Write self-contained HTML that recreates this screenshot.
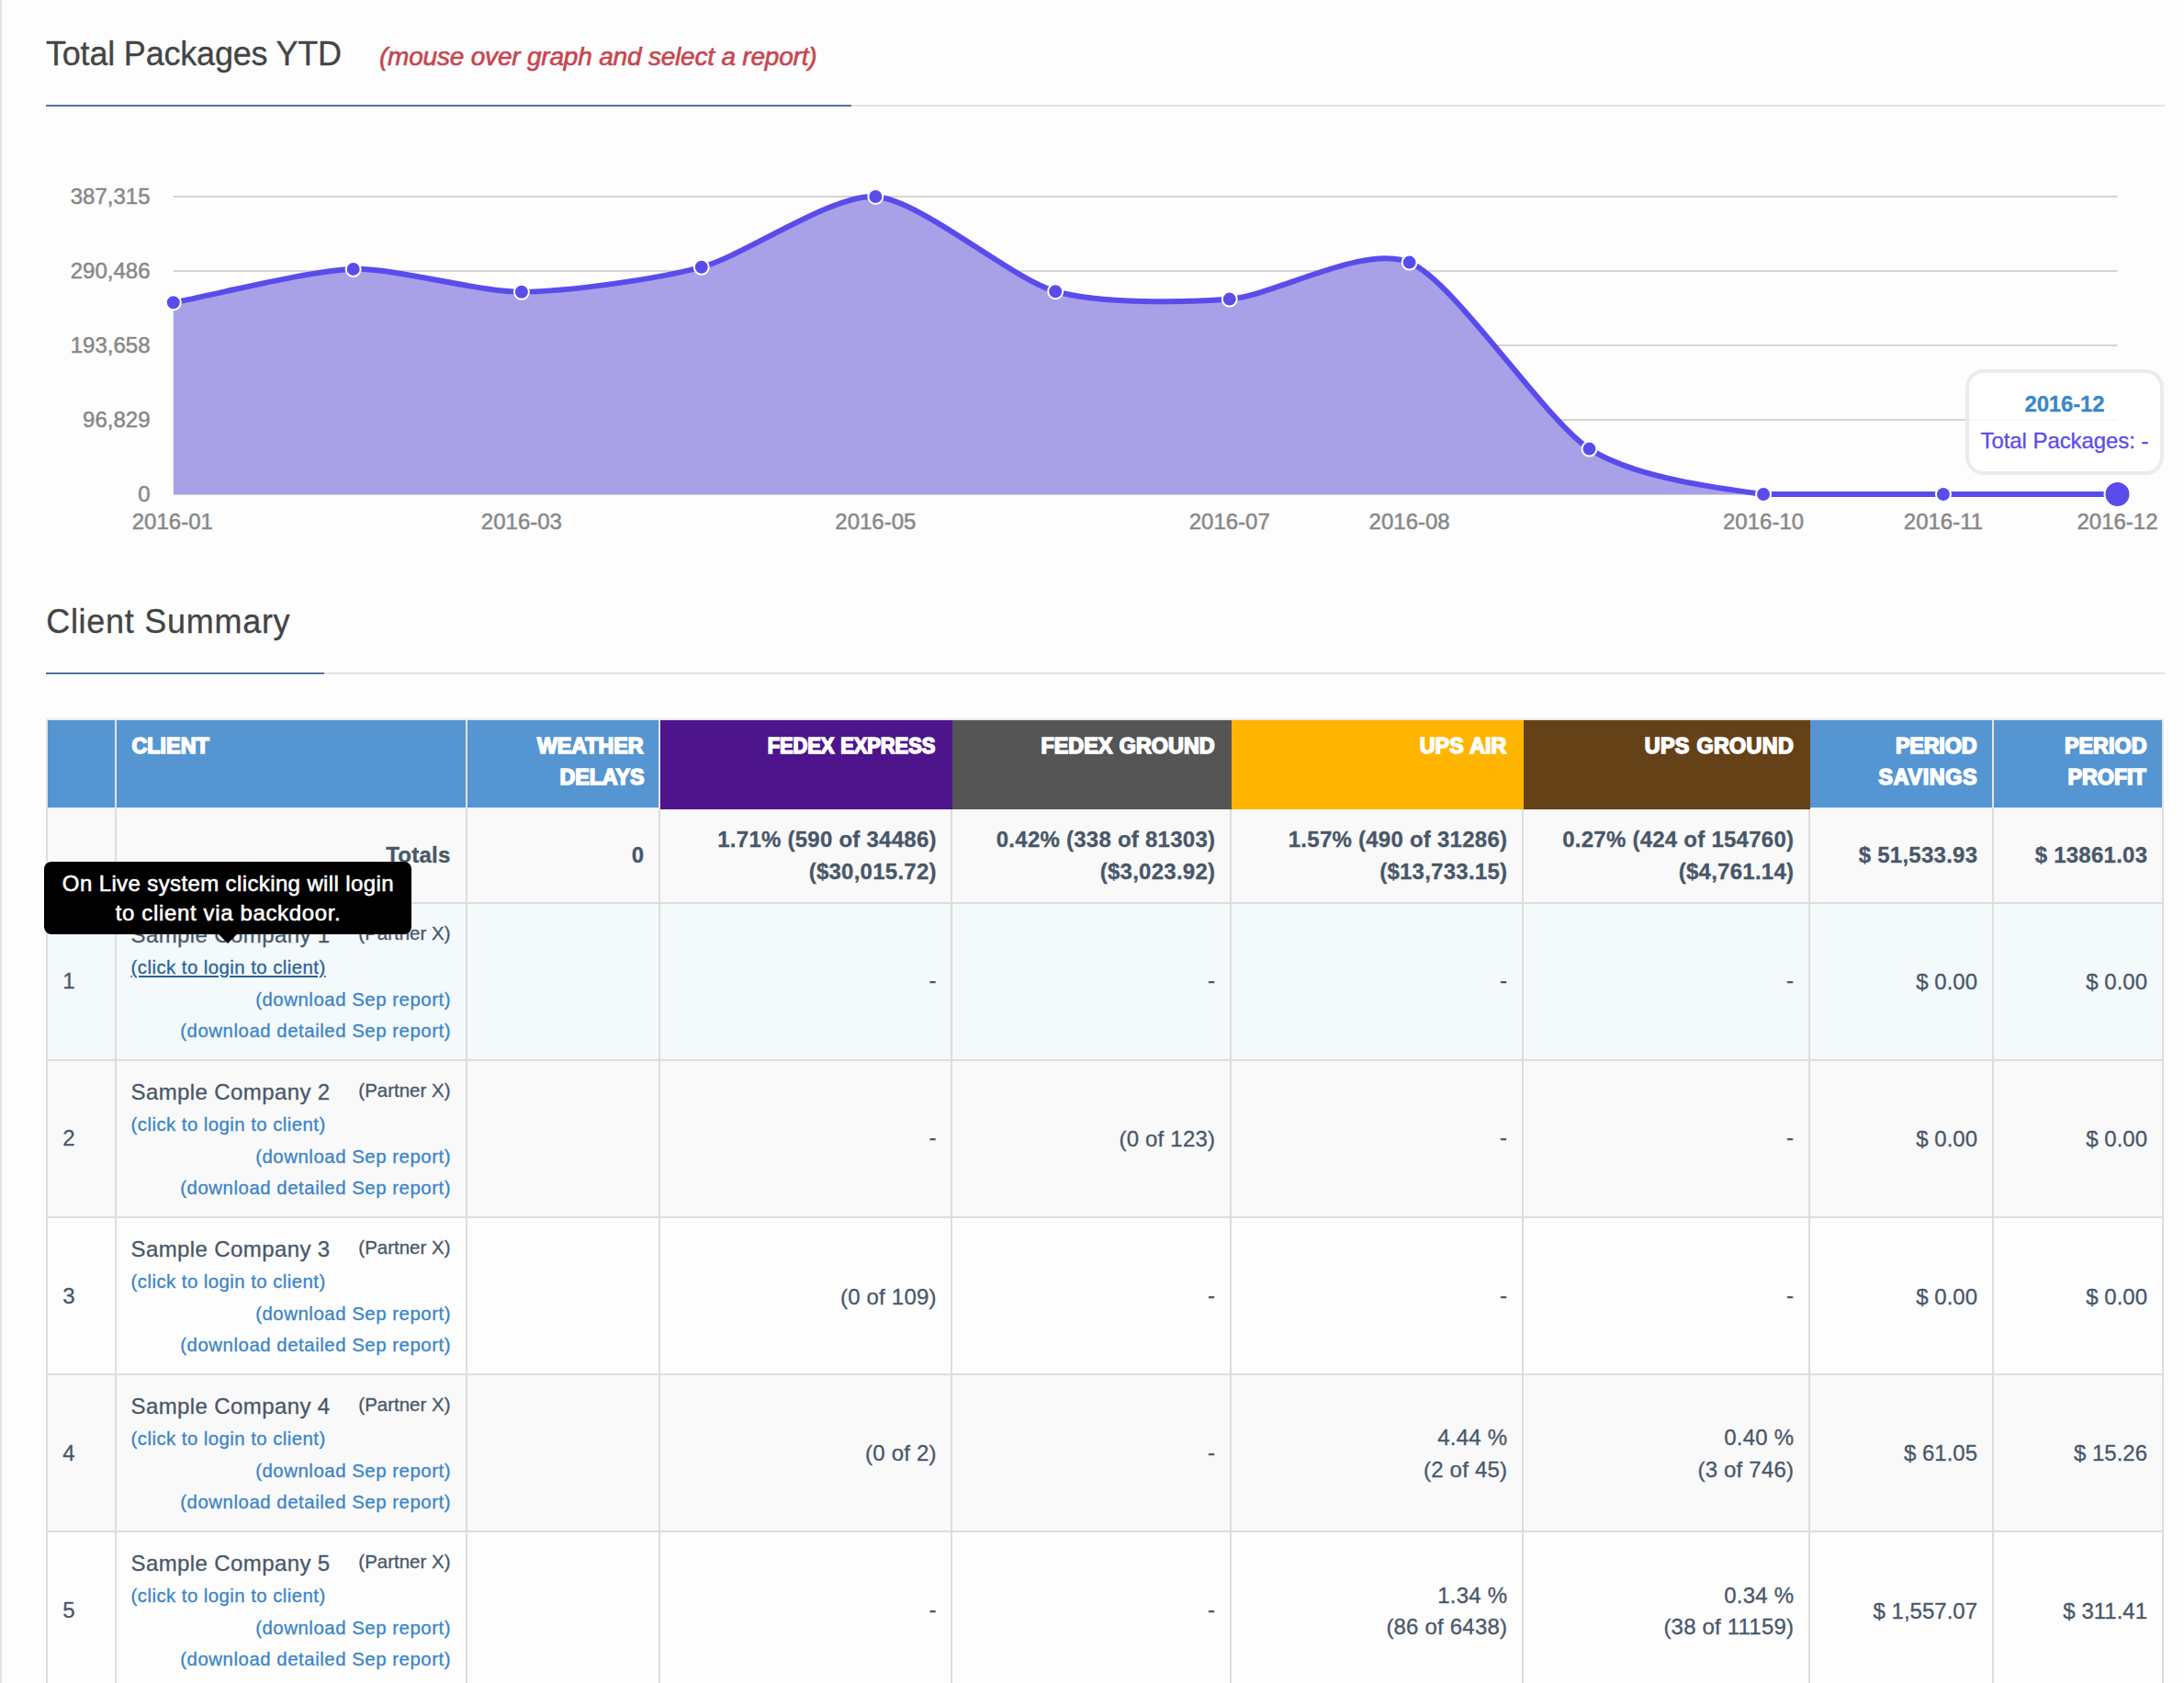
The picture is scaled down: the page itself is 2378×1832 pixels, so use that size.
<!DOCTYPE html>
<html lang="en"><head><meta charset="utf-8"><title>Dashboard</title>
<style>
html,body{margin:0;padding:0}
body{width:2378px;height:1832px;overflow:hidden;position:relative;background:#fdfdfd;font-family:"Liberation Sans",sans-serif;color:#4e5d6c}
.t{position:absolute;white-space:nowrap;line-height:1;font-family:"Liberation Sans",sans-serif;-webkit-text-stroke:0.3px currentColor}
.tt{-webkit-text-stroke:0.55px #fff}
.r{position:absolute}
.hd{-webkit-text-stroke:1.6px #fff;color:#fff;word-spacing:0.8px}
svg{position:absolute;left:0;top:0}
svg text{font-family:"Liberation Sans",sans-serif;font-size:24px;fill:#888;stroke:#888;stroke-width:0.5px}
a{color:inherit;text-decoration:none}
</style></head><body>

<div class="r" style="left:0px;top:0px;width:2px;height:1832px;background:#dce4ed;"></div>
<span class="t" style="top:41.33px;font-size:36px;color:#444;letter-spacing:-0.2px;left:50.00px;">Total Packages YTD</span>
<span class="t" style="top:48.30px;font-size:28px;color:#c8454f;letter-spacing:-0.2px;left:413.00px;font-style:italic;-webkit-text-stroke:0.6px #c8454f;">(mouse over graph and select a report)</span>
<div class="r" style="left:50px;top:114px;width:2307px;height:2px;background:#e2e2e2;"></div>
<div class="r" style="left:50px;top:114px;width:877px;height:2px;background:#52759c;"></div>
<svg width="2378" height="620" viewBox="0 0 2378 620">
<text x="163.5" y="221.60" text-anchor="end">387,315</text>
<rect x="189" y="213" width="2116.5" height="2" fill="#d4d4d4"/>
<text x="163.5" y="302.60" text-anchor="end">290,486</text>
<rect x="189" y="294" width="2116.5" height="2" fill="#d4d4d4"/>
<text x="163.5" y="383.60" text-anchor="end">193,658</text>
<rect x="189" y="375" width="2116.5" height="2" fill="#d4d4d4"/>
<text x="163.5" y="464.60" text-anchor="end">96,829</text>
<rect x="189" y="456" width="2116.5" height="2" fill="#d4d4d4"/>
<text x="163.5" y="545.60" text-anchor="end">0</text>
<rect x="189" y="537" width="2116.5" height="2" fill="#d4d4d4"/>
<path d="M188.80,329.30C237.77,320.20,335.71,294.39,384.67,292.90C430.48,291.51,522.10,318.05,567.91,317.80C616.88,317.53,714.82,303.99,763.78,290.80C811.17,278.04,905.95,210.75,953.34,214.00C1002.31,217.35,1100.24,303.02,1149.21,317.20C1196.60,330.92,1291.38,329.49,1338.77,325.60C1387.74,321.59,1485.67,265.23,1534.64,285.60C1583.61,305.98,1681.55,456.53,1730.52,488.60C1777.90,519.63,1872.68,531.93,1920.07,538.00C1969.04,538.00,2066.98,538.00,2115.94,538.00C2163.33,538.00,2258.11,538.00,2305.50,538.00L2305.50,538.0L188.80,538.0Z" fill="#a8a1e8" stroke="none"/>
<path d="M188.80,329.30C237.77,320.20,335.71,294.39,384.67,292.90C430.48,291.51,522.10,318.05,567.91,317.80C616.88,317.53,714.82,303.99,763.78,290.80C811.17,278.04,905.95,210.75,953.34,214.00C1002.31,217.35,1100.24,303.02,1149.21,317.20C1196.60,330.92,1291.38,329.49,1338.77,325.60C1387.74,321.59,1485.67,265.23,1534.64,285.60C1583.61,305.98,1681.55,456.53,1730.52,488.60C1777.90,519.63,1872.68,531.93,1920.07,538.00C1969.04,538.00,2066.98,538.00,2115.94,538.00C2163.33,538.00,2258.11,538.00,2305.50,538.00" fill="none" stroke="#5a4ceb" stroke-width="6"/>
<circle cx="188.80" cy="329.30" r="8" fill="#5a4ceb" stroke="#ffffff" stroke-width="2"/>
<circle cx="384.67" cy="292.90" r="8" fill="#5a4ceb" stroke="#ffffff" stroke-width="2"/>
<circle cx="567.91" cy="317.80" r="8" fill="#5a4ceb" stroke="#ffffff" stroke-width="2"/>
<circle cx="763.78" cy="290.80" r="8" fill="#5a4ceb" stroke="#ffffff" stroke-width="2"/>
<circle cx="953.34" cy="214.00" r="8" fill="#5a4ceb" stroke="#ffffff" stroke-width="2"/>
<circle cx="1149.21" cy="317.20" r="8" fill="#5a4ceb" stroke="#ffffff" stroke-width="2"/>
<circle cx="1338.77" cy="325.60" r="8" fill="#5a4ceb" stroke="#ffffff" stroke-width="2"/>
<circle cx="1534.64" cy="285.60" r="8" fill="#5a4ceb" stroke="#ffffff" stroke-width="2"/>
<circle cx="1730.52" cy="488.60" r="8" fill="#5a4ceb" stroke="#ffffff" stroke-width="2"/>
<circle cx="1920.07" cy="538.00" r="8" fill="#5a4ceb" stroke="#ffffff" stroke-width="2"/>
<circle cx="2115.94" cy="538.00" r="8" fill="#5a4ceb" stroke="#ffffff" stroke-width="2"/>
<circle cx="2305.50" cy="538.00" r="14" fill="#5a4ceb" stroke="#ffffff" stroke-width="2"/>
<text x="187.80" y="576" text-anchor="middle">2016-01</text>
<text x="567.91" y="576" text-anchor="middle">2016-03</text>
<text x="953.34" y="576" text-anchor="middle">2016-05</text>
<text x="1338.77" y="576" text-anchor="middle">2016-07</text>
<text x="1534.64" y="576" text-anchor="middle">2016-08</text>
<text x="1920.07" y="576" text-anchor="middle">2016-10</text>
<text x="2115.94" y="576" text-anchor="middle">2016-11</text>
<text x="2305.50" y="576" text-anchor="middle">2016-12</text>
</svg>
<div class="r" style="left:2140px;top:402px;width:208px;height:107px;border:4px solid rgba(230,230,230,0.8);border-radius:20px;background:rgba(255,255,255,0.8)"></div>
<span class="t" style="top:428.48px;font-size:24px;color:#3b87c8;font-weight:bold;letter-spacing:-0.18px;left:1747.91px;width:1000px;text-align:center;">2016-12</span>
<span class="t" style="top:468.28px;font-size:24px;color:#5a4ceb;letter-spacing:-0.07px;left:1747.96px;width:1000px;text-align:center;">Total Packages: -</span>
<span class="t" style="top:659.33px;font-size:36px;color:#444;letter-spacing:0.72px;left:50.20px;">Client Summary</span>
<div class="r" style="left:50px;top:732px;width:2307px;height:2px;background:#e2e2e2;"></div>
<div class="r" style="left:50px;top:732px;width:303px;height:2px;background:#52759c;"></div>
<div class="r" style="left:50px;top:782px;width:2306px;height:2px;background:#e6e8ee;"></div>
<div class="r" style="left:52px;top:784px;width:73px;height:95px;background:#5595d2;"></div>
<div class="r" style="left:127px;top:784px;width:380px;height:95px;background:#5595d2;"></div>
<div class="r" style="left:509px;top:784px;width:208px;height:95px;background:#5595d2;"></div>
<div class="r" style="left:1971px;top:784px;width:198px;height:95px;background:#5595d2;"></div>
<div class="r" style="left:2171px;top:784px;width:183px;height:95px;background:#5595d2;"></div>
<div class="r" style="left:719px;top:784px;width:318px;height:97px;background:#4d148c;"></div>
<div class="r" style="left:1037px;top:784px;width:304px;height:97px;background:#555555;"></div>
<div class="r" style="left:1341px;top:784px;width:318px;height:97px;background:#ffb500;"></div>
<div class="r" style="left:1659px;top:784px;width:312px;height:97px;background:#644117;"></div>
<div class="r" style="left:50px;top:784px;width:2px;height:95px;background:#e6e3df;"></div>
<div class="r" style="left:125px;top:784px;width:2px;height:95px;background:#e6e3df;"></div>
<div class="r" style="left:507px;top:784px;width:2px;height:95px;background:#e6e3df;"></div>
<div class="r" style="left:717px;top:784px;width:2px;height:95px;background:#e6e3df;"></div>
<div class="r" style="left:2169px;top:784px;width:2px;height:95px;background:#e6e3df;"></div>
<div class="r" style="left:2354px;top:784px;width:2px;height:95px;background:#e6e3df;"></div>
<div class="r" style="left:50px;top:782px;width:2px;height:2px;background:#e6e8ee;"></div>
<div class="r" style="left:52px;top:879px;width:73px;height:2px;background:#eef2f8;"></div>
<div class="r" style="left:127px;top:879px;width:380px;height:2px;background:#eef2f8;"></div>
<div class="r" style="left:509px;top:879px;width:208px;height:2px;background:#eef2f8;"></div>
<div class="r" style="left:1971px;top:879px;width:198px;height:2px;background:#eef2f8;"></div>
<div class="r" style="left:2171px;top:879px;width:183px;height:2px;background:#eef2f8;"></div>
<span class="t hd" style="top:801.08px;font-size:23.3px;color:#fff;font-weight:bold;letter-spacing:0.056px;left:143.42px;">CLIENT</span>
<span class="t hd" style="top:801.08px;font-size:23.3px;color:#fff;font-weight:bold;letter-spacing:-0.07px;right:1677.53px;">WEATHER</span>
<span class="t hd" style="top:835.18px;font-size:23.3px;color:#fff;font-weight:bold;letter-spacing:-0.062px;right:1676.62px;">DELAYS</span>
<span class="t hd" style="top:801.08px;font-size:23.3px;color:#fff;font-weight:bold;letter-spacing:-0.055px;right:1359.36px;transform:scaleX(0.94);transform-origin:right center;">FEDEX EXPRESS</span>
<span class="t hd" style="top:801.08px;font-size:23.3px;color:#fff;font-weight:bold;letter-spacing:0.064px;right:1055.32px;">FEDEX GROUND</span>
<span class="t hd" style="top:801.08px;font-size:23.3px;color:#fff;font-weight:bold;letter-spacing:0.03px;right:737.59px;">UPS AIR</span>
<span class="t hd" style="top:801.08px;font-size:23.3px;color:#fff;font-weight:bold;letter-spacing:0.38px;right:424.80px;">UPS GROUND</span>
<span class="t hd" style="top:801.08px;font-size:23.3px;color:#fff;font-weight:bold;letter-spacing:-0.14px;right:225.64px;">PERIOD</span>
<span class="t hd" style="top:835.18px;font-size:23.3px;color:#fff;font-weight:bold;letter-spacing:0.63px;right:224.87px;">SAVINGS</span>
<span class="t hd" style="top:801.08px;font-size:23.3px;color:#fff;font-weight:bold;letter-spacing:0.076px;right:40.34px;">PERIOD</span>
<span class="t hd" style="top:835.18px;font-size:23.3px;color:#fff;font-weight:bold;letter-spacing:-0.062px;right:41.38px;">PROFIT</span>
<div class="r" style="left:52px;top:881px;width:2302px;height:101px;background:#f9f9f9;"></div>
<div class="r" style="left:50px;top:982px;width:2306px;height:2px;background:#dddddd;"></div>
<div class="r" style="left:52px;top:984px;width:2302px;height:169px;background:#f4f9fc;"></div>
<div class="r" style="left:50px;top:1153px;width:2306px;height:2px;background:#dddddd;"></div>
<div class="r" style="left:52px;top:1155px;width:2302px;height:169px;background:#f9f9f9;"></div>
<div class="r" style="left:50px;top:1324px;width:2306px;height:2px;background:#dddddd;"></div>
<div class="r" style="left:52px;top:1326px;width:2302px;height:169px;background:#fdfdfd;"></div>
<div class="r" style="left:50px;top:1495px;width:2306px;height:2px;background:#dddddd;"></div>
<div class="r" style="left:52px;top:1497px;width:2302px;height:169px;background:#f9f9f9;"></div>
<div class="r" style="left:50px;top:1666px;width:2306px;height:2px;background:#dddddd;"></div>
<div class="r" style="left:52px;top:1668px;width:2302px;height:169px;background:#fdfdfd;"></div>
<div class="r" style="left:50px;top:1837px;width:2306px;height:2px;background:#dddddd;"></div>
<div class="r" style="left:50px;top:879px;width:2px;height:953px;background:#dddddd;"></div>
<div class="r" style="left:125px;top:879px;width:2px;height:953px;background:#dddddd;"></div>
<div class="r" style="left:507px;top:879px;width:2px;height:953px;background:#dddddd;"></div>
<div class="r" style="left:717px;top:879px;width:2px;height:953px;background:#dddddd;"></div>
<div class="r" style="left:1035px;top:881px;width:2px;height:953px;background:#dddddd;"></div>
<div class="r" style="left:1339px;top:881px;width:2px;height:953px;background:#dddddd;"></div>
<div class="r" style="left:1657px;top:881px;width:2px;height:953px;background:#dddddd;"></div>
<div class="r" style="left:1969px;top:881px;width:2px;height:953px;background:#dddddd;"></div>
<div class="r" style="left:2169px;top:879px;width:2px;height:953px;background:#dddddd;"></div>
<div class="r" style="left:2354px;top:879px;width:2px;height:953px;background:#dddddd;"></div>
<span class="t" style="top:919.48px;font-size:24px;color:#485769;font-weight:bold;letter-spacing:0.25px;right:1887.45px;">Totals</span>
<span class="t" style="top:919.48px;font-size:24px;color:#485769;font-weight:bold;letter-spacing:0.25px;right:1676.75px;">0</span>
<span class="t" style="top:902.38px;font-size:24px;color:#485769;font-weight:bold;letter-spacing:0.25px;right:1358.25px;">1.71% (590 of 34486)</span>
<span class="t" style="top:936.58px;font-size:24px;color:#485769;font-weight:bold;letter-spacing:0.25px;right:1358.25px;">($30,015.72)</span>
<span class="t" style="top:902.38px;font-size:24px;color:#485769;font-weight:bold;letter-spacing:0.25px;right:1054.75px;">0.42% (338 of 81303)</span>
<span class="t" style="top:936.58px;font-size:24px;color:#485769;font-weight:bold;letter-spacing:0.25px;right:1054.75px;">($3,023.92)</span>
<span class="t" style="top:902.38px;font-size:24px;color:#485769;font-weight:bold;letter-spacing:0.25px;right:736.75px;">1.57% (490 of 31286)</span>
<span class="t" style="top:936.58px;font-size:24px;color:#485769;font-weight:bold;letter-spacing:0.25px;right:736.75px;">($13,733.15)</span>
<span class="t" style="top:902.38px;font-size:24px;color:#485769;font-weight:bold;letter-spacing:0.25px;right:424.75px;">0.27% (424 of 154760)</span>
<span class="t" style="top:936.58px;font-size:24px;color:#485769;font-weight:bold;letter-spacing:0.25px;right:424.75px;">($4,761.14)</span>
<span class="t" style="top:919.48px;font-size:24px;color:#485769;font-weight:bold;letter-spacing:0.25px;right:224.75px;">$ 51,533.93</span>
<span class="t" style="top:919.48px;font-size:24px;color:#485769;font-weight:bold;letter-spacing:0.25px;right:39.75px;">$ 13861.03</span>
<span class="t" style="top:1056.48px;font-size:24px;color:#485769;left:68.20px;">1</span>
<span class="t" style="top:1006.28px;font-size:24px;color:#485769;letter-spacing:0.39px;left:142.60px;">Sample Company 1</span>
<span class="t" style="top:1005.93px;font-size:20.4px;color:#485769;letter-spacing:0.05px;right:1887.45px;">(Partner X)</span>
<span class="t" style="top:1043.23px;font-size:20.4px;color:#2a6496;letter-spacing:0.44px;left:142.60px;text-decoration:underline;">(click to login to client)</span>
<span class="t" style="top:1077.93px;font-size:20.4px;color:#3a85c8;letter-spacing:0.53px;right:1886.97px;">(download Sep report)</span>
<span class="t" style="top:1112.23px;font-size:20.4px;color:#3a85c8;letter-spacing:0.53px;right:1886.97px;">(download detailed Sep report)</span>
<span class="t" style="top:1055.38px;font-size:24px;color:#485769;letter-spacing:0.2px;right:1358.30px;">-</span>
<span class="t" style="top:1055.38px;font-size:24px;color:#485769;letter-spacing:0.2px;right:1054.80px;">-</span>
<span class="t" style="top:1055.38px;font-size:24px;color:#485769;letter-spacing:0.2px;right:736.80px;">-</span>
<span class="t" style="top:1055.38px;font-size:24px;color:#485769;letter-spacing:0.2px;right:424.80px;">-</span>
<span class="t" style="top:1056.68px;font-size:24px;color:#485769;right:225.00px;">$ 0.00</span>
<span class="t" style="top:1056.68px;font-size:24px;color:#485769;right:40.00px;">$ 0.00</span>
<span class="t" style="top:1227.48px;font-size:24px;color:#485769;left:68.20px;">2</span>
<span class="t" style="top:1177.28px;font-size:24px;color:#485769;letter-spacing:0.39px;left:142.60px;">Sample Company 2</span>
<span class="t" style="top:1176.93px;font-size:20.4px;color:#485769;letter-spacing:0.05px;right:1887.45px;">(Partner X)</span>
<span class="t" style="top:1214.23px;font-size:20.4px;color:#3a85c8;letter-spacing:0.44px;left:142.60px;">(click to login to client)</span>
<span class="t" style="top:1248.93px;font-size:20.4px;color:#3a85c8;letter-spacing:0.53px;right:1886.97px;">(download Sep report)</span>
<span class="t" style="top:1283.23px;font-size:20.4px;color:#3a85c8;letter-spacing:0.53px;right:1886.97px;">(download detailed Sep report)</span>
<span class="t" style="top:1226.38px;font-size:24px;color:#485769;letter-spacing:0.2px;right:1358.30px;">-</span>
<span class="t" style="top:1227.68px;font-size:24px;color:#485769;letter-spacing:0.2px;right:1054.80px;">(0 of 123)</span>
<span class="t" style="top:1226.38px;font-size:24px;color:#485769;letter-spacing:0.2px;right:736.80px;">-</span>
<span class="t" style="top:1226.38px;font-size:24px;color:#485769;letter-spacing:0.2px;right:424.80px;">-</span>
<span class="t" style="top:1227.68px;font-size:24px;color:#485769;right:225.00px;">$ 0.00</span>
<span class="t" style="top:1227.68px;font-size:24px;color:#485769;right:40.00px;">$ 0.00</span>
<span class="t" style="top:1399.48px;font-size:24px;color:#485769;left:68.20px;">3</span>
<span class="t" style="top:1348.28px;font-size:24px;color:#485769;letter-spacing:0.39px;left:142.60px;">Sample Company 3</span>
<span class="t" style="top:1347.93px;font-size:20.4px;color:#485769;letter-spacing:0.05px;right:1887.45px;">(Partner X)</span>
<span class="t" style="top:1385.23px;font-size:20.4px;color:#3a85c8;letter-spacing:0.44px;left:142.60px;">(click to login to client)</span>
<span class="t" style="top:1419.93px;font-size:20.4px;color:#3a85c8;letter-spacing:0.53px;right:1886.97px;">(download Sep report)</span>
<span class="t" style="top:1454.23px;font-size:20.4px;color:#3a85c8;letter-spacing:0.53px;right:1886.97px;">(download detailed Sep report)</span>
<span class="t" style="top:1399.68px;font-size:24px;color:#485769;letter-spacing:0.2px;right:1358.30px;">(0 of 109)</span>
<span class="t" style="top:1398.38px;font-size:24px;color:#485769;letter-spacing:0.2px;right:1054.80px;">-</span>
<span class="t" style="top:1398.38px;font-size:24px;color:#485769;letter-spacing:0.2px;right:736.80px;">-</span>
<span class="t" style="top:1398.38px;font-size:24px;color:#485769;letter-spacing:0.2px;right:424.80px;">-</span>
<span class="t" style="top:1399.68px;font-size:24px;color:#485769;right:225.00px;">$ 0.00</span>
<span class="t" style="top:1399.68px;font-size:24px;color:#485769;right:40.00px;">$ 0.00</span>
<span class="t" style="top:1569.98px;font-size:24px;color:#485769;left:68.20px;">4</span>
<span class="t" style="top:1519.28px;font-size:24px;color:#485769;letter-spacing:0.39px;left:142.60px;">Sample Company 4</span>
<span class="t" style="top:1518.93px;font-size:20.4px;color:#485769;letter-spacing:0.05px;right:1887.45px;">(Partner X)</span>
<span class="t" style="top:1556.23px;font-size:20.4px;color:#3a85c8;letter-spacing:0.44px;left:142.60px;">(click to login to client)</span>
<span class="t" style="top:1590.93px;font-size:20.4px;color:#3a85c8;letter-spacing:0.53px;right:1886.97px;">(download Sep report)</span>
<span class="t" style="top:1625.23px;font-size:20.4px;color:#3a85c8;letter-spacing:0.53px;right:1886.97px;">(download detailed Sep report)</span>
<span class="t" style="top:1570.18px;font-size:24px;color:#485769;letter-spacing:0.2px;right:1358.30px;">(0 of 2)</span>
<span class="t" style="top:1568.88px;font-size:24px;color:#485769;letter-spacing:0.2px;right:1054.80px;">-</span>
<span class="t" style="top:1553.38px;font-size:24px;color:#485769;letter-spacing:0.2px;right:736.80px;">4.44 %</span>
<span class="t" style="top:1587.58px;font-size:24px;color:#485769;letter-spacing:0.2px;right:736.80px;">(2 of 45)</span>
<span class="t" style="top:1553.38px;font-size:24px;color:#485769;letter-spacing:0.2px;right:424.80px;">0.40 %</span>
<span class="t" style="top:1587.58px;font-size:24px;color:#485769;letter-spacing:0.2px;right:424.80px;">(3 of 746)</span>
<span class="t" style="top:1570.18px;font-size:24px;color:#485769;right:225.00px;">$ 61.05</span>
<span class="t" style="top:1570.18px;font-size:24px;color:#485769;right:40.00px;">$ 15.26</span>
<span class="t" style="top:1741.48px;font-size:24px;color:#485769;left:68.20px;">5</span>
<span class="t" style="top:1690.28px;font-size:24px;color:#485769;letter-spacing:0.39px;left:142.60px;">Sample Company 5</span>
<span class="t" style="top:1689.93px;font-size:20.4px;color:#485769;letter-spacing:0.05px;right:1887.45px;">(Partner X)</span>
<span class="t" style="top:1727.23px;font-size:20.4px;color:#3a85c8;letter-spacing:0.44px;left:142.60px;">(click to login to client)</span>
<span class="t" style="top:1761.93px;font-size:20.4px;color:#3a85c8;letter-spacing:0.53px;right:1886.97px;">(download Sep report)</span>
<span class="t" style="top:1796.23px;font-size:20.4px;color:#3a85c8;letter-spacing:0.53px;right:1886.97px;">(download detailed Sep report)</span>
<span class="t" style="top:1740.38px;font-size:24px;color:#485769;letter-spacing:0.2px;right:1358.30px;">-</span>
<span class="t" style="top:1740.38px;font-size:24px;color:#485769;letter-spacing:0.2px;right:1054.80px;">-</span>
<span class="t" style="top:1724.88px;font-size:24px;color:#485769;letter-spacing:0.2px;right:736.80px;">1.34 %</span>
<span class="t" style="top:1759.08px;font-size:24px;color:#485769;letter-spacing:0.2px;right:736.80px;">(86 of 6438)</span>
<span class="t" style="top:1724.88px;font-size:24px;color:#485769;letter-spacing:0.2px;right:424.80px;">0.34 %</span>
<span class="t" style="top:1759.08px;font-size:24px;color:#485769;letter-spacing:0.2px;right:424.80px;">(38 of 11159)</span>
<span class="t" style="top:1741.68px;font-size:24px;color:#485769;right:225.00px;">$ 1,557.07</span>
<span class="t" style="top:1741.68px;font-size:24px;color:#485769;right:40.00px;">$ 311.41</span>
<div class="r" style="left:48px;top:938px;width:400px;height:79px;background:#000;border-radius:8px"></div>
<div class="r" style="left:238px;top:1017px;width:0;height:0;border-left:10px solid transparent;border-right:10px solid transparent;border-top:10px solid #000"></div>
<span class="t tt" style="top:949.58px;font-size:24px;color:#fff;letter-spacing:0.38px;left:-251.61px;width:1000px;text-align:center;">On Live system clicking will login</span>
<span class="t tt" style="top:982.08px;font-size:24px;color:#fff;letter-spacing:0.64px;left:-251.48px;width:1000px;text-align:center;">to client via backdoor.</span>
</body></html>
